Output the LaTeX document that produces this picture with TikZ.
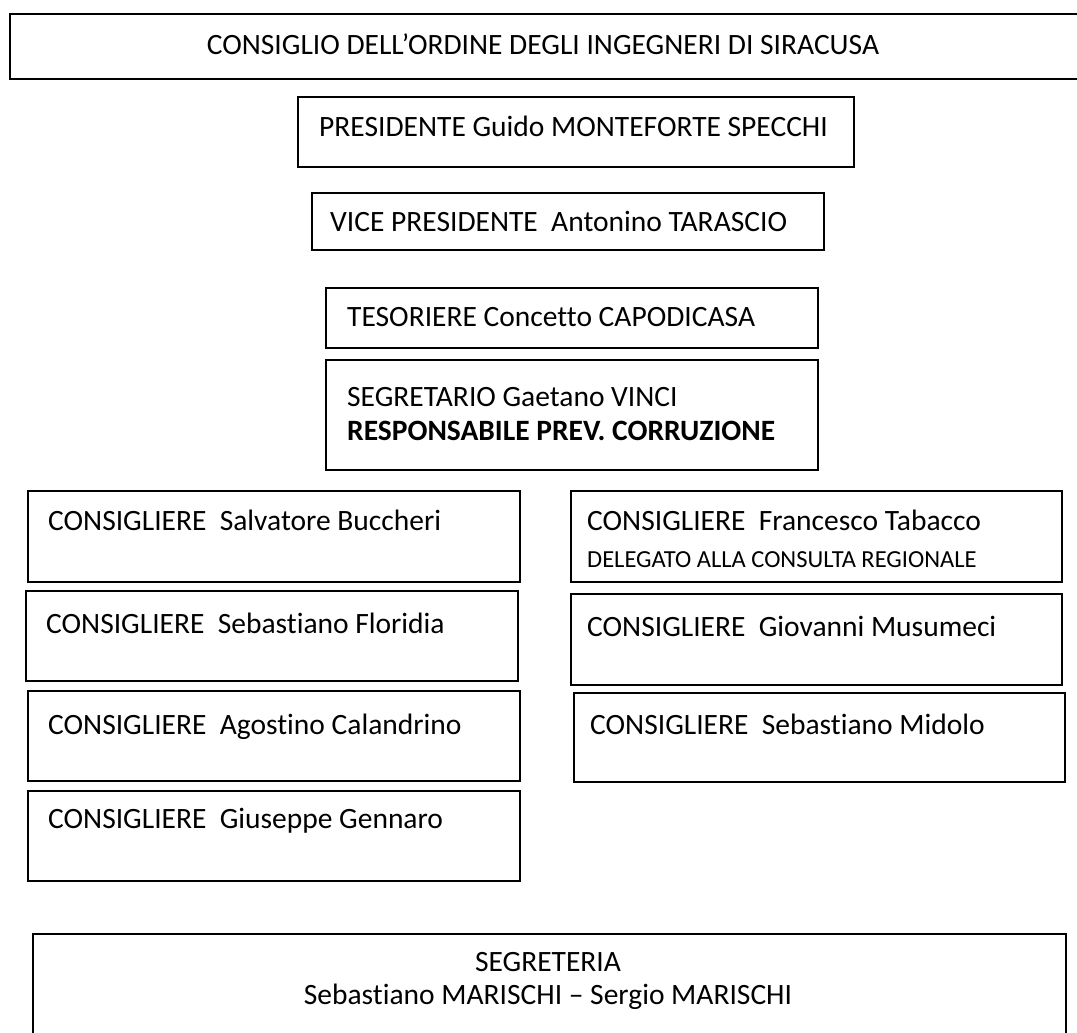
\documentclass[tikz,border=0pt]{standalone}
\usepackage{fontspec}
\setmainfont{Carlito}[Ligatures=NoCommon]
\begin{document}
\begin{tikzpicture}[x=1pt,y=-1pt,
  frame/.style={draw,line width=1.8pt,inner sep=0pt,anchor=north west},
  lbl/.style={anchor=base west,inner sep=0pt,font=\fontsize{29.5}{36}\selectfont},
  lblc/.style={anchor=base,inner sep=0pt,font=\fontsize{29.5}{36}\selectfont},
  small/.style={anchor=base west,inner sep=0pt,font=\fontsize{24.5}{30}\selectfont}]
\clip (0,0) rectangle (1077,1033);
\fill[white] (0,0) rectangle (1077,1033);
% boxes
\node[frame,minimum width=1100pt,minimum height=65pt] (title) at (9,13) {};
\node[frame,minimum width=556pt,minimum height=70pt] (pres) at (297,96) {};
\node[frame,minimum width=512pt,minimum height=57pt] (vice) at (311,192) {};
\node[frame,minimum width=492pt,minimum height=60pt] (teso) at (325,287) {};
\node[frame,minimum width=492pt,minimum height=110pt] (segr) at (325,359) {};
\node[frame,minimum width=492pt,minimum height=91pt] (bucc) at (27,490) {};
\node[frame,minimum width=492pt,minimum height=90pt] (flor) at (25,590) {};
\node[frame,minimum width=492pt,minimum height=90pt] (cala) at (27,690) {};
\node[frame,minimum width=492pt,minimum height=90pt] (genn) at (27,790) {};
\node[frame,minimum width=491pt,minimum height=91pt] (taba) at (570,490) {};
\node[frame,minimum width=491pt,minimum height=91pt] (musu) at (570,593) {};
\node[frame,minimum width=491pt,minimum height=89pt] (mido) at (573,692) {};
\node[frame,minimum width=1033pt,minimum height=150pt] (segt) at (32,933) {};
% texts
\node[lblc] (titleT) at (543,55) {CONSIGLIO DELL’ORDINE DEGLI INGEGNERI DI SIRACUSA};
\node[lbl] (presT) at (319,136.5) {PRESIDENTE Guido MONTEFORTE SPECCHI};
\node[lbl] (viceT) at (330,231.5) {VICE PRESIDENTE\ \ Antonino TARASCIO};
\node[lbl] (tesoT) at (347,326.5) {TESORIERE Concetto CAPODICASA};
\node[lbl] (segrT) at (347,406.5) {SEGRETARIO Gaetano VINCI};
\node[lbl,font=\fontsize{29.5}{36}\selectfont\bfseries] (segrB) at (347,440.5) {RESPONSABILE PREV. CORRUZIONE};
\node[lbl] (buccT) at (48,530.5) {CONSIGLIERE\ \ Salvatore Buccheri};
\node[lbl] (florT) at (46,633.5) {CONSIGLIERE\ \ Sebastiano Floridia};
\node[lbl] (calaT) at (48,734) {CONSIGLIERE\ \ Agostino Calandrino};
\node[lbl] (gennT) at (48,828.5) {CONSIGLIERE\ \ Giuseppe Gennaro};
\node[lbl] (tabaT) at (587,530.5) {CONSIGLIERE\ \ Francesco Tabacco};
\node[small] (tabaS) at (587,567) {DELEGATO ALLA CONSULTA REGIONALE};
\node[lbl] (musuT) at (587,636.5) {CONSIGLIERE\ \ Giovanni Musumeci};
\node[lbl] (midoT) at (590,734.5) {CONSIGLIERE\ \ Sebastiano Midolo};
\node[lblc] (segtT) at (548,971) {SEGRETERIA};
\node[lblc] (segtN) at (548,1004) {Sebastiano MARISCHI – Sergio MARISCHI};
\end{tikzpicture}
\end{document}
